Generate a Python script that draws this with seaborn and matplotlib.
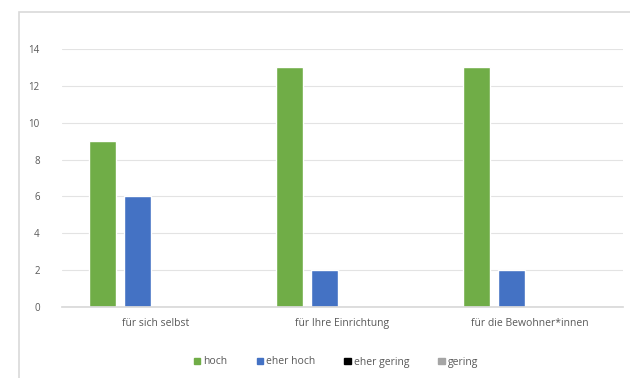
import matplotlib
matplotlib.use("Agg")
import matplotlib.pyplot as plt
import matplotlib.patches as mpatches
import seaborn as sns
import pandas as pd

categories = ["für sich selbst", "für Ihre Einrichtung", "für die Bewohner*innen"]
series = ["hoch", "eher hoch", "eher gering", "gering"]
hoch = [9, 13, 13]
eher_hoch = [6, 2, 2]
eher_gering = [0, 0, 0]
gering = [0, 0, 0]
yticks = [0, 2, 4, 6, 8, 10, 12, 14]
colors = ["#70AD47", "#4472C4", "#000000", "#A5A5A5"]

rows = []
for s, vals in zip(series, [hoch, eher_hoch, eher_gering, gering]):
    for c, v in zip(categories, vals):
        rows.append({"cat": c, "series": s, "value": v})
df = pd.DataFrame(rows)

sns.set_theme(style="white")
plt.rcParams["font.family"] = ["Open Sans", "DejaVu Sans"]

fig = plt.figure(figsize=(6.3, 3.78), dpi=100)
ax = fig.add_axes([62/630, 1-307/378, (623-62)/630, (307-49)/378])

sns.barplot(data=df, x="cat", y="value", hue="series", order=categories,
            hue_order=series, palette=colors, width=0.75, gap=0.23,
            ax=ax, legend=False, saturation=1)

ax.set_ylim(0, 14)
ax.set_yticks(yticks)
ax.set_yticklabels([str(t) for t in yticks], fontsize=7, color="#595959")
ax.tick_params(axis="x", labelsize=7.5, colors="#595959", length=0, pad=8)
ax.tick_params(axis="y", length=0, pad=16)
ax.yaxis.grid(True, color="#E3E3E3", linewidth=0.8)
ax.set_axisbelow(True)
for sp in ["top", "right", "left"]:
    ax.spines[sp].set_visible(False)
ax.spines["bottom"].set_color("#D9D9D9")
ax.set_xlabel("")
ax.set_ylabel("")

# outer chart frame
fig.patches.append(mpatches.Rectangle((19/630, -0.1), 1.2, 1 - 12/378 + 0.1,
                                      transform=fig.transFigure, fill=False,
                                      edgecolor="#D9D9D9", linewidth=1.2))

handles = [mpatches.Patch(color=c, label=s) for c, s in zip(colors, series)]
fig.legend(handles=handles, loc="center", bbox_to_anchor=(336/630, 1-362/378),
           ncol=4, frameon=False, fontsize=7.5, handlelength=0.6, handleheight=0.6,
           handletextpad=0.3, columnspacing=2.8, labelcolor="#595959")

fig.savefig("out.png", dpi=100)
